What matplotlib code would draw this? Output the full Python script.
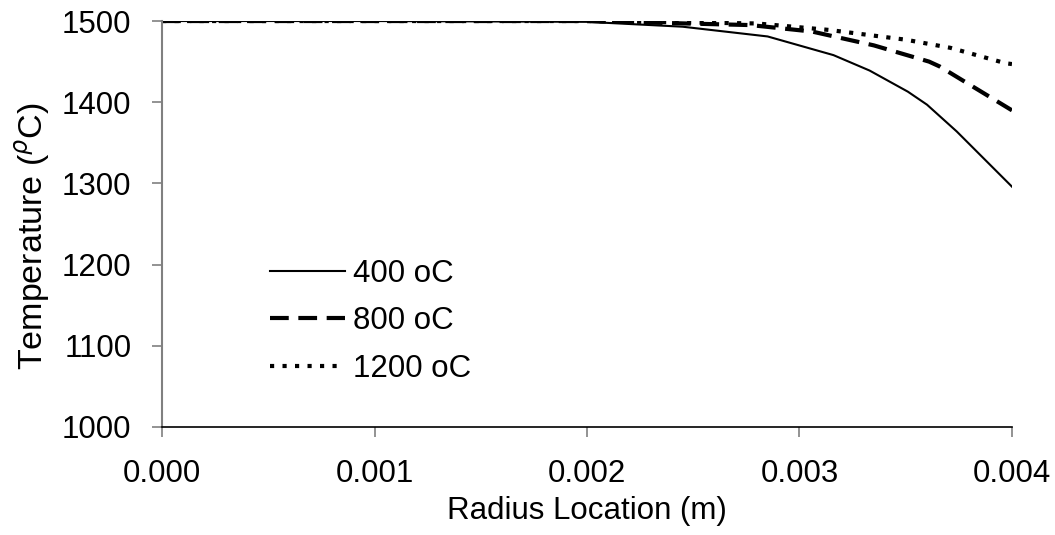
import matplotlib
matplotlib.use("Agg")
import matplotlib.pyplot as plt

plt.rcParams['font.family'] = ['Liberation Sans', 'DejaVu Sans']

# radius positions (m) and temperatures (C)
x_400 = [0.0, 0.001, 0.002, 0.00245, 0.00285, 0.00316, 0.00333, 0.00351, 0.0036, 0.00374, 0.004]
t_400 = [1500, 1500, 1499, 1493, 1481, 1458, 1439, 1413, 1397, 1364, 1296]

x_800 = [0.0, 0.001, 0.002, 0.00277, 0.00306, 0.00335, 0.00361, 0.00366, 0.004]
t_800 = [1500, 1500, 1500, 1495, 1487, 1470, 1450, 1444, 1390]

x_1200 = [0.0, 0.001, 0.002, 0.0028, 0.00314, 0.0035, 0.00371, 0.00397, 0.004]
t_1200 = [1500, 1500, 1500, 1497, 1489, 1477, 1467, 1448, 1447]

labels = ["400 oC", "800 oC", "1200 oC"]
xticks = [0.0, 0.001, 0.002, 0.003, 0.004]
yticks = [1000, 1100, 1200, 1300, 1400, 1500]

fs = 22.5

fig = plt.figure(figsize=(10.55, 5.35), dpi=100)
ax = fig.add_axes([0.1536, 0.2019, 0.8056, 0.7588])

ax.plot(x_400, t_400, color='black', lw=1.5, label=labels[0])
ax.plot(x_800, t_800, color='black', lw=3, linestyle=(0, (4.5, 2.3)), label=labels[1])
ax.plot(x_1200, t_1200, color='black', lw=3, linestyle=(0, (1, 2)), label=labels[2])

ax.set_xlim(0, 0.004)
ax.set_ylim(1000, 1500)
ax.set_xticks(xticks)
ax.set_xticklabels(["%.3f" % v for v in xticks])
ax.set_yticks(yticks)
ax.tick_params(labelsize=fs, length=7, width=1.2, direction='out', color='#808080')
ax.tick_params(axis='x', pad=16)
ax.tick_params(axis='y', pad=15)

for s in ['top', 'right']:
    ax.spines[s].set_visible(False)
ax.spines['left'].set_color('#808080')
ax.spines['left'].set_linewidth(1.5)
ax.spines['bottom'].set_color('black')
ax.spines['bottom'].set_linewidth(1.2)

ax.set_xlabel("Radius Location (m)", fontsize=fs, labelpad=5)
ax.set_ylabel(r"Temperature ($^{\rho}$C)", fontsize=24.5)
ax.yaxis.set_label_coords(-0.129, 0.47)

ax.legend(loc='upper left', bbox_to_anchor=(0.127, 0.415), frameon=False,
          fontsize=fs, handlelength=2.4, handletextpad=0.25, labelspacing=0.56,
          borderpad=0, borderaxespad=0)

fig.savefig("out.png", dpi=100)
